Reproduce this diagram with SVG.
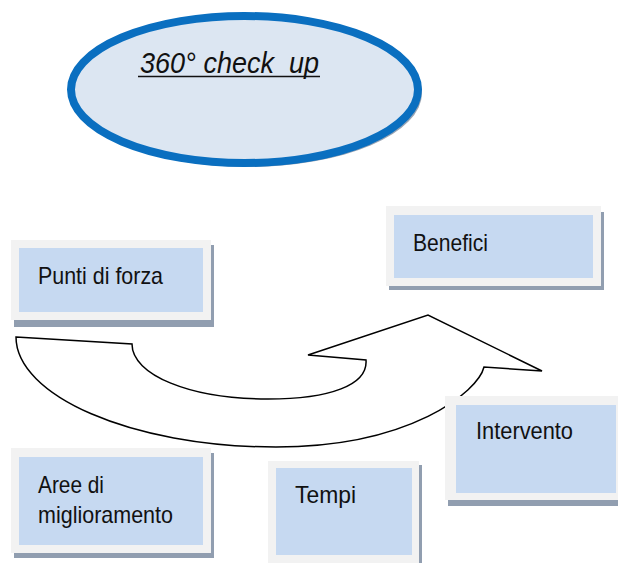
<svg xmlns="http://www.w3.org/2000/svg" width="618" height="563" viewBox="0 0 618 563">
<style>
.frame{fill:#f2f2f2}
.shadow{fill:#919eb0}
.inner{fill:#c6d9f1}
.lbl{font-family:"Liberation Sans",Arial,sans-serif;font-size:24px;fill:#111}
.arrow{fill:#ffffff;stroke:#000;stroke-width:1.5;stroke-linejoin:miter}
</style>
<rect width="618" height="563" fill="#ffffff"/>
<g id="title">
<ellipse cx="248" cy="93" rx="174" ry="74" fill="#9aa5b4"/>
<ellipse cx="244.5" cy="89.5" rx="173.5" ry="73.5" fill="#dce6f2" stroke="#0a6fc0" stroke-width="8"/>
<text x="140" y="73" xml:space="preserve" font-family="'Liberation Sans',Arial,sans-serif" font-size="29" font-style="italic" fill="#111" textLength="179" lengthAdjust="spacingAndGlyphs">360° check  up</text>
<line x1="138" y1="76.5" x2="320" y2="76.5" stroke="#111" stroke-width="1.5"/>
</g>
<g id="connectors">
<path class="arrow" d="M16,337 L132,344 C132,375 190,399 268,399 C330,399 368,385 366,360 L308,355 L428,315 L542,371 L484,367 C478,392 410,447 276,447 C130,447 16,395 16,337 Z"/>
</g>
<g id="punti">
<rect class="shadow" x="14" y="245" width="200" height="82"/>
<rect class="frame" x="11" y="240" width="200" height="80"/>
<rect class="inner" x="19" y="248" width="184" height="64"/>
<text class="lbl" x="38" y="284" textLength="125" lengthAdjust="spacingAndGlyphs">Punti di forza</text>
</g>
<g id="benefici">
<rect class="shadow" x="389" y="212" width="215" height="78"/>
<rect class="frame" x="386" y="206" width="215" height="80"/>
<rect class="inner" x="394" y="215" width="199" height="63"/>
<text class="lbl" x="413" y="251" textLength="75" lengthAdjust="spacingAndGlyphs">Benefici</text>
</g>
<g id="intervento">
<rect class="shadow" x="448" y="402" width="175" height="104"/>
<rect class="frame" x="445" y="396" width="178" height="104"/>
<rect class="inner" x="456" y="405" width="160" height="88"/>
<text class="lbl" x="476" y="439" textLength="97" lengthAdjust="spacingAndGlyphs">Intervento</text>
</g>
<g id="aree">
<rect class="shadow" x="14" y="453" width="200" height="105"/>
<rect class="frame" x="11" y="448" width="200" height="105"/>
<rect class="inner" x="19" y="457" width="184" height="88"/>
<text class="lbl" x="38" y="493" textLength="66" lengthAdjust="spacingAndGlyphs">Aree di</text>
<text class="lbl" x="38" y="523" textLength="135" lengthAdjust="spacingAndGlyphs">miglioramento</text>
</g>
<g id="tempi">
<rect class="shadow" x="271" y="465" width="151" height="105"/>
<rect class="frame" x="268" y="461" width="151" height="110"/>
<rect class="inner" x="276" y="468" width="136" height="87"/>
<text class="lbl" x="295" y="503" textLength="61" lengthAdjust="spacingAndGlyphs">Tempi</text>
</g>
</svg>
